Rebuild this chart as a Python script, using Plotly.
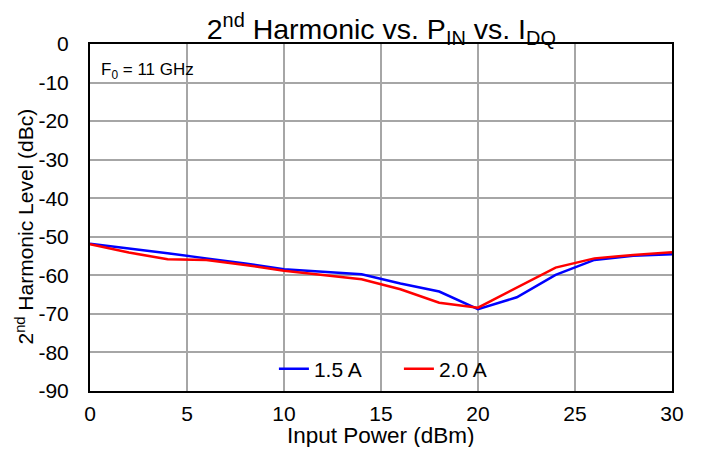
import plotly.graph_objects as go

pin = [0, 2, 4, 6, 8, 10, 12, 14, 16, 18, 20, 22, 24, 26, 28, 30]
h2_15A = [-51.8, -53.0, -54.3, -55.6, -56.9, -58.4, -59.0, -59.7, -62.1, -64.2, -68.8, -65.7, -59.9, -56.0, -54.9, -54.5]
h2_20A = [-51.9, -54.1, -55.8, -56.0, -57.3, -58.8, -59.9, -61.0, -63.6, -67.1, -68.4, -63.2, -58.0, -55.6, -54.7, -54.0]
x_ticks = [0, 5, 10, 15, 20, 25, 30]
y_ticks = [0, -10, -20, -30, -40, -50, -60, -70, -80, -90]

FONT = "Liberation Sans, Arial, sans-serif"

fig = go.Figure()
fig.add_trace(go.Scatter(x=pin, y=h2_15A, mode="lines", name="1.5 A",
                         line=dict(color="#0000ff", width=2.5)))
fig.add_trace(go.Scatter(x=pin, y=h2_20A, mode="lines", name="2.0 A",
                         line=dict(color="#ff0000", width=2.5)))

# white box behind legend, covering grid
fig.add_shape(type="rect", xref="paper", yref="paper",
              x0=0.249, x1=0.756, y0=0.012, y1=0.117,
              fillcolor="white", line=dict(width=0), layer="between")

fig.add_annotation(text="F<sub>0</sub> = 11 GHz", xref="paper", yref="paper",
                   x=0.0155, y=0.96, xanchor="left", yanchor="top", showarrow=False,
                   font=dict(family=FONT, size=17, color="black"))

# axis titles as annotations for exact placement
fig.add_annotation(text="Input Power (dBm)", xref="paper", yref="paper",
                   x=0.5, y=-0.127, xanchor="center", yanchor="middle", showarrow=False,
                   font=dict(family=FONT, size=22.5, color="black"))
fig.add_annotation(text="2<sup>nd</sup> Harmonic Level (dBc)", xref="paper", yref="paper",
                   x=-0.1125, y=0.4726, xanchor="center", yanchor="middle", showarrow=False,
                   textangle=-90, font=dict(family=FONT, size=21, color="black"))

fig.update_layout(
    width=685, height=439,
    margin=dict(l=82, r=21, t=36, b=56),
    paper_bgcolor="white", plot_bgcolor="white",
    font=dict(family=FONT, size=21, color="black"),
    title=dict(text="2<sup>nd</sup> Harmonic vs. P<sub>IN</sub> vs. I<sub>DQ</sub>",
               x=0.545, xanchor="center", y=0.953, yanchor="middle",
               font=dict(family=FONT, size=28.5, color="black")),
    showlegend=True,
    legend=dict(orientation="h", x=0.316, xanchor="left", y=0.063, yanchor="middle",
                bgcolor="rgba(0,0,0,0)", font=dict(family=FONT, size=21, color="black"),
                itemwidth=30, entrywidth=80),
)
fig.update_xaxes(range=[0, 30], tickvals=x_ticks, ticktext=[str(v) for v in x_ticks],
                 showgrid=True, gridcolor="#a6a6a6", gridwidth=1.5,
                 showline=True, linecolor="black", linewidth=2, mirror=True,
                 ticks="inside", ticklen=4, tickcolor="#a6a6a6",
                 automargin=False, ticklabelstandoff=3,
                 zeroline=False, tickfont=dict(family=FONT, size=21))
fig.update_yaxes(range=[-90, 0], tickvals=y_ticks, ticktext=[str(v) for v in y_ticks],
                 showgrid=True, gridcolor="#a6a6a6", gridwidth=1.5,
                 showline=True, linecolor="black", linewidth=2, mirror=True,
                 ticks="", zeroline=False, ticklabelstandoff=15, automargin=False,
                 tickfont=dict(family=FONT, size=21))

fig.write_html("out.html")
